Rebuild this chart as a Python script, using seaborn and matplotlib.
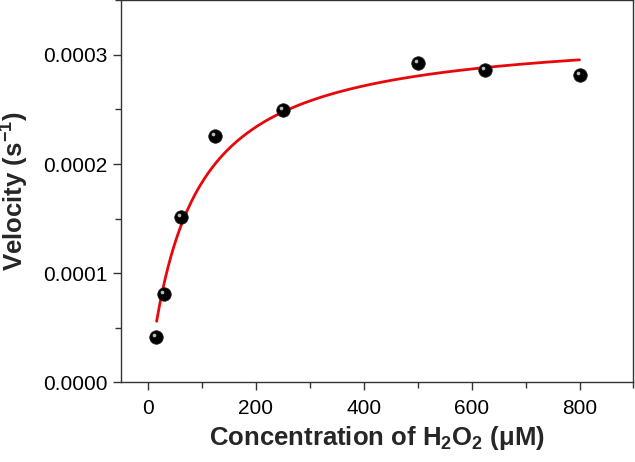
import numpy as np
import pandas as pd
import matplotlib
matplotlib.use("Agg")
import matplotlib.pyplot as plt
import matplotlib.transforms as mtransforms
from matplotlib.ticker import FormatStrFormatter, MultipleLocator
import seaborn as sns

# measured points
conc = [15, 30, 62, 125, 250, 500, 625, 800]
velocity = [0.0000416, 0.0000807, 0.0001517, 0.0002257, 0.0002495, 0.000293, 0.000286, 0.0002814]

# Michaelis-Menten fit parameters
km = 77.0
vmax = 0.000324
fit_start, fit_end = 16, 800

sns.set_theme(style="ticks")
plt.rcParams['font.family'] = ['Liberation Sans', 'DejaVu Sans']
plt.rcParams['mathtext.fontset'] = 'custom'
plt.rcParams['mathtext.rm'] = 'Liberation Sans'
plt.rcParams['mathtext.bf'] = 'Liberation Sans:bold'
plt.rcParams['mathtext.default'] = 'bf'

df = pd.DataFrame({'conc': conc, 'velocity': velocity})
xs = np.linspace(fit_start, fit_end, 300)
fit = pd.DataFrame({'conc': xs, 'velocity': vmax * xs / (km + xs)})

fig = plt.figure(figsize=(6.35, 4.62), dpi=100)
ax = fig.add_axes([0.1906, 0.173, 0.807, 0.826])

sns.lineplot(data=fit, x='conc', y='velocity', color='#e8080c', lw=2, ax=ax, zorder=2)
sns.scatterplot(data=df, x='conc', y='velocity', color='black', s=95,
                edgecolor='#222222', linewidth=0.5, ax=ax, zorder=3)
# small highlight for the sphere look
hl = ax.transData + mtransforms.ScaledTranslation(-2/100, 2/100, fig.dpi_scale_trans)
ax.scatter(df['conc'], df['velocity'], s=7, color='#bbbbbb', transform=hl, zorder=4, linewidths=0)

ax.set_xlim(-50, 900)
ax.set_ylim(0, 0.00035)
ax.xaxis.set_major_locator(MultipleLocator(200))
ax.xaxis.set_minor_locator(MultipleLocator(100))
ax.yaxis.set_major_locator(MultipleLocator(0.0001))
ax.yaxis.set_minor_locator(MultipleLocator(0.00005))
ax.yaxis.set_major_formatter(FormatStrFormatter('%.4f'))

for s in ax.spines.values():
    s.set_color('#333333')
    s.set_linewidth(1.0)
ax.tick_params(which='both', direction='out', color='#333333', width=1,
               top=False, right=False, labelsize=15, labelcolor='black')
ax.tick_params(which='major', length=5.5)
ax.tick_params(which='minor', length=4)
ax.tick_params(axis='x', which='major', pad=7)
ax.tick_params(axis='y', which='major', pad=4)

ax.set_xlabel('Concentration of H$_2$O$_2$ (μM)', fontsize=18.5, fontweight='bold', labelpad=4)
ax.set_ylabel('Velocity (s$^{-1}$)', fontsize=18.5, fontweight='bold', labelpad=9)

fig.savefig('out.png', dpi=100)
